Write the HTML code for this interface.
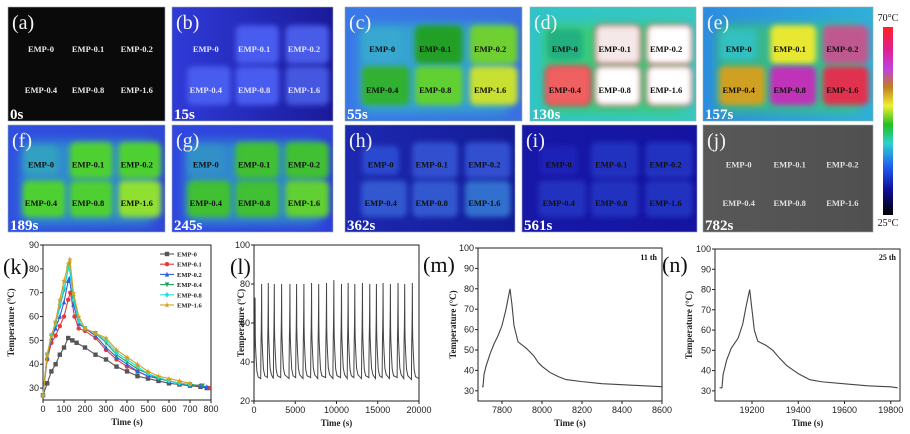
<!DOCTYPE html>
<html><head><meta charset="utf-8"><style>
html,body{margin:0;padding:0;background:#fff;}
svg{display:block;}
</style></head><body>
<svg id="fig" width="910" height="434" viewBox="0 0 910 434" xmlns="http://www.w3.org/2000/svg">
<defs>
<filter id="blur2" x="-30%" y="-30%" width="160%" height="160%"><feGaussianBlur stdDeviation="2.6"/></filter>
<filter id="blur5" x="-50%" y="-50%" width="200%" height="200%"><feGaussianBlur stdDeviation="5"/></filter>
<linearGradient id="cbar" x1="0" y1="0" x2="0" y2="1">
<stop offset="0" stop-color="#ff2020"/><stop offset="0.12" stop-color="#e02090"/><stop offset="0.22" stop-color="#c040e0"/>
<stop offset="0.32" stop-color="#c08020"/><stop offset="0.42" stop-color="#f0f030"/><stop offset="0.52" stop-color="#20c020"/>
<stop offset="0.62" stop-color="#30d0d0"/><stop offset="0.74" stop-color="#2060f0"/><stop offset="0.86" stop-color="#1010a0"/>
<stop offset="1" stop-color="#000"/></linearGradient>
</defs>
<g id="thermal"></g>
<g id="charts"></g>
</svg>
<script>
// ---------- chart data ----------
const kTimes0 = [0,20,40,60,80,100,120,140,160,200,250,300,350,400,450,500,550,600,650,700,750,780];
const kEmp0 = [27,32,37,40,44,47,51,50,49,47,44,42,39,37,35,34,33,32,31.5,31,30.5,30];
const kTimes1 = [0,20,40,60,80,100,120,130,150,170,200,250,300,350,400,450,500,550,600,650,700,750,790];
const kEmp01 = [27,42,49,52,56,60,67,70,60,55,54,51,46,42,39,37,35,34,33,32,31.5,31,30];
const kTimes2 = [0,20,40,60,80,100,120,125,145,170,200,250,300,350,400,450,500,550,600,650,700,750,780];
const kEmp02 = [27,43,51,55,60,66,75,76,65,57,55,52,47,43,40,37,35,34,33,32,31.5,31,30.5];
const kTimes4 = [0,20,40,60,80,100,120,125,145,170,200,250,300,350,400,450,500,550,600,650,700,760];
const kEmp04 = [27,44,52,57,64,71,80,82,68,58,55,53,49,44,41,38,36,34,33,32,31.5,31];
const kTimes8 = [0,20,40,60,80,100,120,125,145,170,200,250,300,350,400,450,500,550,600,650,700];
const kEmp08 = [27,44,52,57,65,72,80,81,67,58,55,53,50,45,42,39,36,34.5,33,32,31.5];
const kTimes16 = [0,20,40,60,80,100,120,128,145,170,200,250,300,350,400,450,500,550,600,650,700];
const kEmp16 = [27,44,52,58,67,75,82,84,70,60,55,53,51,46,43,40,37,35,34,33,32];
const kSeriesNames = ["EMP-0","EMP-0.1","EMP-0.2","EMP-0.4","EMP-0.8","EMP-1.6"];
const kXTicks = [0,100,200,300,400,500,600,700,800];
const kYTicks = [30,40,50,60,70,80,90];

const lPeakTimes = [130,925,1734,2460,3347,4355,5161,6048,6976,7840,8790,9677,10605,11411,12218,13145,14032,14839,15645,16532,17460,18266,19194];
const lPeakTemps = [73,80,80.5,80,80,80,80,80,80.5,80,80.5,82,80,80.5,80,80.5,80,80,80.5,80,80.5,80,80.5];
const lBaseTemps = [31,31.5,32,31.5,32,31.5,32,31.5,32,31.5,32,31.5,32,31.5,32,31.5,32,31.5,32,31.5,32,31.5,31];
const lXTicks = [0,5000,10000,15000,20000];
const lYTicks = [20,40,60,80,100];

const mTimes = [7700,7705,7710,7720,7740,7760,7780,7800,7820,7840,7850,7860,7880,7900,7920,7940,7960,7980,8000,8040,8080,8120,8200,8300,8400,8500,8600];
const mTemps = [32,32,38,42,48,53,57,62,70,80,72,62,54,52.5,51,49,47,44,42,39,37,35.5,34.5,33.5,33,32.5,32];
const mXTicks = [7800,8000,8200,8400,8600];
const mnYTicks = [30,40,50,60,70,80,90,100];

const nTimes = [19060,19070,19075,19090,19110,19140,19160,19175,19190,19200,19210,19225,19260,19290,19320,19350,19400,19450,19500,19600,19700,19800,19830];
const nTemps = [31.5,31.5,38,45,51,56,63,72,80,70,60,54.5,52.5,50,46,42.5,38.5,35.5,34.5,33.5,32.5,32,31.5];
const nXTicks = [19200,19400,19600,19800];

// ---------- helpers ----------
const NS = "http://www.w3.org/2000/svg";
function mk(tag, attrs, parent){
  const e = document.createElementNS(NS, tag);
  for (const k in attrs) e.setAttribute(k, attrs[k]);
  if (parent) parent.appendChild(e);
  return e;
}
function scale(d0,d1,r0,r1){ return v => r0 + (v-d0)*(r1-r0)/(d1-d0); }

// ---------- thermal panels ----------
const thermal = document.getElementById('thermal');
const labels = ["EMP-0","EMP-0.1","EMP-0.2","EMP-0.4","EMP-0.8","EMP-1.6"];
const panels = [
 {id:"a",t:"0s",x:8,y:7,w:157,h:114,bg:"#0a0a0a",bg2:"#0a0a0a",halo:null,bl:[null,null,null,null,null,null],lc:"#e8e8e8",edge:null},
 {id:"b",t:"15s",x:172,y:7,w:161,h:114,bg:"#2f3ad8",bg2:"#1a1a9a",halo:null,bl:[null,"#4a5cf0","#4a5ce8","#4a5cf0","#4a5cf0","#4456e0"],lc:"#e0e4ff",edge:null},
 {id:"c",t:"55s",x:345,y:7,w:177,h:114,bg:"#3a78e8",bg2:"#3a70e0",halo:"#30c8c0",bl:["#38a8d0","#22a028","#70d030","#30b030","#60d030","#c8e030"],lc:"#101010",edge:null},
 {id:"d",t:"130s",x:530,y:7,w:166,h:114,bg:"#30c4c8",bg2:"#38c8c0",halo:"#40d040",bl:["#20b080","#f4e8e8","#ffffff","#f06060","#ffffff","#ffffff"],lc:"#101010",edge:"#e03050"},
 {id:"e",t:"157s",x:703,y:7,w:170,h:114,bg:"#2c8ce0",bg2:"#30b0d8",halo:"#40d050",bl:["#30c0c0","#e8e830","#c05890","#d0a020","#c030b8","#e03050"],lc:"#101010",edge:null},
 {id:"f",t:"189s",x:8,y:125,w:157,h:107,bg:"#3050e0",bg2:"#3048d8",halo:"#30c0c0",bl:["#30a0c0","#50d030","#50d030","#50d030","#50d030","#90e030"],lc:"#101010",edge:null},
 {id:"g",t:"245s",x:172,y:125,w:161,h:107,bg:"#3048e0",bg2:"#3040d8",halo:"#30c0c0",bl:["#3090c8","#40c030","#40c030","#40c030","#40c030","#60d030"],lc:"#101010",edge:null},
 {id:"h",t:"362s",x:345,y:125,w:170,h:107,bg:"#1c28b0",bg2:"#141c98",halo:null,bl:["#2a48d0","#3050d0","#3050d0","#3058d0","#3058d0","#3070d0"],lc:"#101010",edge:null},
 {id:"i",t:"561s",x:522,y:125,w:175,h:107,bg:"#1818a8",bg2:"#1414a0",halo:null,bl:["#1c24b8","#2030c0","#2030c0","#2030c0","#2030c0","#2030c0"],lc:"#101010",edge:null},
 {id:"j",t:"782s",x:703,y:125,w:170,h:107,bg:"#585858",bg2:"#505050",halo:null,bl:[null,null,null,null,null,null],lc:"#e0e0e0",edge:null}
];
panels.forEach(p=>{
  const g = mk('g',{},thermal);
  
  
  const cid = 'clip'+p.id;
  const cp = mk('clipPath',{id:cid},g);
  mk('rect',{x:p.x,y:p.y,width:p.w,height:p.h},cp);
  const gradId='pg'+p.id;
  const lg = mk('linearGradient',{id:gradId,x1:0,y1:0,x2:1,y2:0},g);
  mk('stop',{offset:0,'stop-color':p.bg},lg);
  mk('stop',{offset:1,'stop-color':p.bg2},lg);
  const bg = mk('rect',{x:p.x,y:p.y,width:p.w,height:p.h,fill:'url(#'+gradId+')',stroke:'#9aa',"stroke-width":0.6},g);
  
  
  const inner = mk('g',{'clip-path':'url(#'+cid+')'},g);
  const cols=[0.21,0.51,0.82], rows=[0.37,0.73];
  const bw=p.w*0.27, bh=p.h*0.34;
  if (p.halo){
    const hal = mk('rect',{x:p.x+p.w*0.08,y:p.y+p.h*0.15,width:p.w*0.86,height:p.h*0.78,rx:12,fill:p.halo,opacity:0.55,filter:'url(#blur5)'},inner);
    
    
  }
  p.bl.forEach((c,i)=>{
    if(!c) return;
    const cx=p.x+p.w*cols[i%3]+ (i===0?0:p.w*0.02), cy=p.y+p.h*rows[Math.floor(i/3)]-p.h*0.04;
    const small = i===0 ? 0.8 : 1;
    const useEdge = p.edge && i>0;
    const b = mk('rect',{x:cx-bw*small/2,y:cy-bh*small/2,width:bw*small,height:bh*small,rx:6,fill:c,filter:'url(#blur2)',stroke:useEdge?p.edge:'none','stroke-width':useEdge?2:0},inner);
    
    
  });
  labels.forEach((l,i)=>{
    const tx = mk('text',{x:p.x+p.w*cols[i%3],y:p.y+p.h*rows[Math.floor(i/3)]+3,'text-anchor':'middle','font-family':'Liberation Serif, serif','font-weight':'bold','font-size':8.5,fill:p.lc},g);
    tx.textContent=l;
    
    
  });
  const pl = mk('text',{x:p.x+4,y:p.y+22,'font-family':'Liberation Serif, serif','font-size':20,fill:'#f4f4f4'},g);
  pl.textContent='('+p.id+')';
  
  
  const tl = mk('text',{x:p.x+2,y:p.y+p.h-2,'font-family':'Liberation Serif, serif','font-weight':'bold','font-size':15,fill:'#fff'},g);
  tl.textContent=p.t;
  
  
});
// colorbar
const cb = mk('rect',{x:883,y:27,width:10,height:188,fill:'url(#cbar)'},thermal);


const cbt = mk('text',{x:888,y:21,'text-anchor':'middle','font-family':'Liberation Serif, serif','font-size':10,fill:'#111'},thermal);
cbt.textContent='70°C';


const cbb = mk('text',{x:888,y:226,'text-anchor':'middle','font-family':'Liberation Serif, serif','font-size':10,fill:'#111'},thermal);
cbb.textContent='25°C';



// ---------- charts ----------
const charts = document.getElementById('charts');
function axes(cfg){
  const g = mk('g',{},charts);
  
  
  const {x0,x1,y0,y1} = cfg;
  const frame = mk('rect',{x:x0,y:y0,width:x1-x0,height:y1-y0,fill:'none',stroke:'#222','stroke-width':1},g);
  
  
  cfg.xt.forEach(v=>{
    const px=cfg.sx(v);
    mk('line',{x1:px,x2:px,y1:y1,y2:y1+3,stroke:'#222'},g);
    const t=mk('text',{x:px,y:y1+12,'text-anchor':'middle','font-family':'Liberation Sans, sans-serif','font-size':9,fill:'#222'},g);
    t.textContent=v;
    
    
  });
  cfg.yt.forEach(v=>{
    const py=cfg.sy(v);
    mk('line',{x1:x0-3,x2:x0,y1:py,y2:py,stroke:'#222'},g);
    const t=mk('text',{x:x0-4,y:py+3,'text-anchor':'end','font-family':'Liberation Sans, sans-serif','font-size':9,fill:'#222'},g);
    t.textContent=v;
    
    
  });
  const xt=mk('text',{x:(x0+x1)/2,y:y1+25,'text-anchor':'middle','font-family':'Liberation Serif, serif','font-weight':'bold','font-size':9,fill:'#222'},g);
  xt.textContent='Time (s)';
  
  
  const yx=cfg.ytx, yy=(y0+y1)/2;
  const yt=mk('text',{x:yx,y:yy,'text-anchor':'middle','font-family':'Liberation Serif, serif','font-weight':'bold','font-size':9,fill:'#222',transform:'rotate(-90 '+yx+' '+yy+')'},g);
  yt.textContent='Temperature (°C)';
  
  
  const pl=mk('text',{x:cfg.lx,y:cfg.ly,'font-family':'Liberation Serif, serif','font-size':22,fill:'#111'},g);
  pl.textContent='('+cfg.id+')';
  
  
  return g;
}
function linePath(xs,ys,sx,sy){
  return xs.map((t,i)=>(i?'L':'M')+sx(t).toFixed(2)+' '+sy(ys[i]).toFixed(2)).join(' ');
}

// (k)
const kx=scale(0,800,43,211), ky=scale(25,90,400,245);
const gk=axes({id:'k',x0:43,x1:211,y0:245,y1:400,sx:kx,sy:ky,xt:kXTicks,yt:kYTicks,ytx:14,lx:3,ly:274});
const kCols=["#555","#e83838","#2a62e0","#20a060","#20e0e0","#d4a020"];
const kMarkers=["square","circle","up","down","diamond","star"];
const kData=[[kTimes0,kEmp0],[kTimes1,kEmp01],[kTimes2,kEmp02],[kTimes4,kEmp04],[kTimes8,kEmp08],[kTimes16,kEmp16]];
function marker(g,type,x,y,c){
  const s=2.2;let e;
  if(type==='square') e=mk('rect',{x:x-s,y:y-s,width:2*s,height:2*s,fill:c},g);
  else if(type==='circle') e=mk('circle',{cx:x,cy:y,r:s,fill:c},g);
  else if(type==='up') e=mk('polygon',{points:`${x},${y-s-0.5} ${x-s},${y+s} ${x+s},${y+s}`,fill:c},g);
  else if(type==='down') e=mk('polygon',{points:`${x},${y+s+0.5} ${x-s},${y-s} ${x+s},${y-s}`,fill:c},g);
  else if(type==='diamond') e=mk('polygon',{points:`${x},${y-s-0.5} ${x+s},${y} ${x},${y+s+0.5} ${x-s},${y}`,fill:c},g);
  else e=mk('polygon',{points:`${x},${y-s-0.8} ${x+0.8},${y-0.6} ${x+s+0.6},${y-0.6} ${x+1.2},${y+0.7} ${x+1.8},${y+s+0.6} ${x},${y+1.5} ${x-1.8},${y+s+0.6} ${x-1.2},${y+0.7} ${x-s-0.6},${y-0.6} ${x-0.8},${y-0.6}`,fill:c},g);
  
  
}
kData.forEach((d,si)=>{
  const sg=mk('g',{},gk);
  
  
  const pth=mk('path',{d:linePath(d[0],d[1],kx,ky),fill:'none',stroke:kCols[si],'stroke-width':1.1},sg);
  
  
  d[0].forEach((t,i)=>marker(sg,kMarkers[si],kx(t),ky(d[1][i]),kCols[si]));
  const ly=254+si*10.2;
  const le=mk('g',{},gk);
  
  
  mk('line',{x1:160,x2:174,y1:ly,y2:ly,stroke:kCols[si],'stroke-width':1.1},le);
  marker(le,kMarkers[si],167,ly,kCols[si]);
  const lt=mk('text',{x:177,y:ly+2.5,'font-family':'Liberation Serif, serif','font-weight':'bold','font-size':6.5,fill:'#222'},le);
  lt.textContent=kSeriesNames[si];
});

// (l)
const lx=scale(0,20000,254,419), ly=scale(20,100,401,245);
const gl=axes({id:'l',x0:254,x1:419,y0:245,y1:401,sx:lx,sy:ly,xt:lXTicks,yt:lYTicks,ytx:244,lx:230,ly:274});
const riseOff=[-110,-100,-70,-40,-15,0], riseFrac=[0,0.15,0.4,0.55,0.75,1];
const fallOff=[25,50,120,220,380], fallFrac=[0.55,0.42,0.27,0.1,0.03];
let lxs=[],lys=[];
lPeakTimes.forEach((tp,i)=>{
  const b=lBaseTemps[i], pk=lPeakTemps[i];
  riseOff.forEach((o,j)=>{lxs.push(tp+o);lys.push(b+(pk-b)*riseFrac[j]);});
  fallOff.forEach((o,j)=>{lxs.push(tp+o);lys.push(b+(pk-b)*fallFrac[j]);});
});
lxs.push(20000);lys.push(31.5);
const lp=mk('path',{d:linePath(lxs,lys,lx,ly),fill:'none',stroke:'#444','stroke-width':1},gl);



// (m)
const mx=scale(7680,8600,478,662), my=scale(25,100,401,248);
const gm=axes({id:'m',x0:478,x1:662,y0:248,y1:401,sx:mx,sy:my,xt:mXTicks,yt:mnYTicks,ytx:456,lx:423,ly:272});
const mp=mk('path',{d:linePath(mTimes,mTemps,mx,my),fill:'none',stroke:'#444','stroke-width':1.1},gm);


const m11=mk('text',{x:657,y:260,'text-anchor':'end','font-family':'Liberation Serif, serif','font-weight':'bold','font-size':8,fill:'#111'},gm);
m11.textContent='11 th';



// (n)
const nx=scale(19040,19840,715,900), ny=scale(25,100,401,249);
const gn=axes({id:'n',x0:715,x1:900,y0:249,y1:401,sx:nx,sy:ny,xt:nXTicks,yt:mnYTicks,ytx:692,lx:662,ly:272});
const np=mk('path',{d:linePath(nTimes,nTemps,nx,ny),fill:'none',stroke:'#444','stroke-width':1.1},gn);


const n25=mk('text',{x:896,y:260,'text-anchor':'end','font-family':'Liberation Serif, serif','font-weight':'bold','font-size':8,fill:'#111'},gn);
n25.textContent='25 th';


</script>
</body></html>
